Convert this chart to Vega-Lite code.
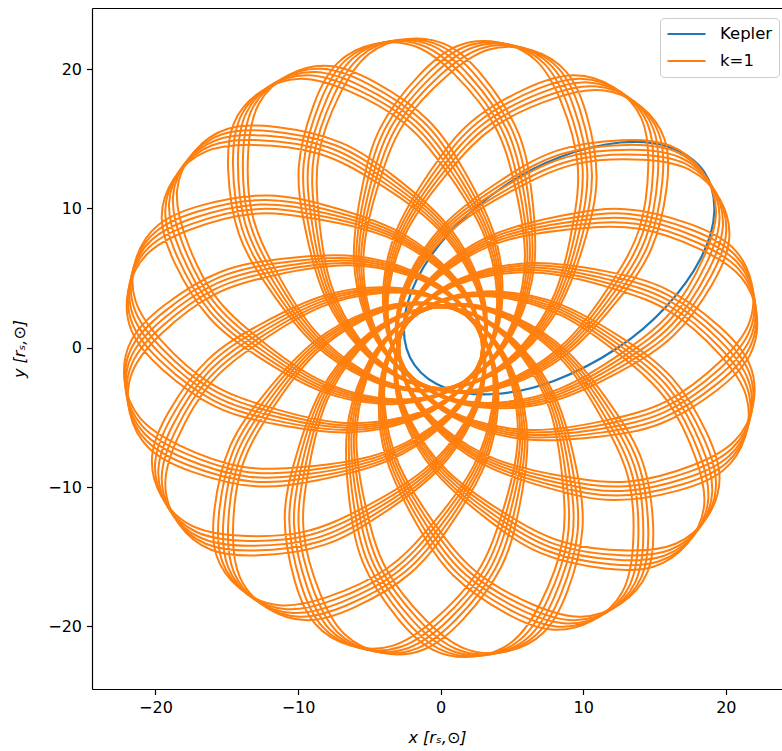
{
"$schema":"https://vega.github.io/schema/vega-lite/v6.json",
"width":690,"height":681,
"autosize":{"type":"none"},
"padding":{"left":92,"top":8,"right":0,"bottom":62},
"background":"white",
"config":{
 "view":{"stroke":null},
 "font":"DejaVu Sans",
 "axis":{"grid":false,"domainColor":"#000","domainWidth":1.2,"tickColor":"#000","tickWidth":1.2,"tickSize":5.5,"labelColor":"#000","labelFont":"DejaVu Sans","labelFontSize":16,"labelPadding":5,"titleColor":"#000","titleFont":"DejaVu Sans","titleFontSize":16,"titleFontWeight":"normal","titleFontStyle":"italic"},
 "legend":{"orient":"none","legendX":568,"legendY":10,"symbolType":"stroke","symbolSize":1444,"symbolStrokeWidth":2.2,"clipHeight":20,"labelFont":"DejaVu Sans","labelFontSize":16.5,"labelColor":"#000","labelOffset":13,"fillColor":"rgba(255,255,255,0.8)","strokeColor":"#cccccc","cornerRadius":4,"padding":6,"rowPadding":7}
},
"datasets":{
"kepler":[
{"x":-1.825,"y":-1.254},{"x":0.466,"y":-2.941},{"x":3.889,"y":-3.321},{"x":7.982,"y":-2.364},{"x":12.427,"y":0},{"x":15.79,"y":2.927},{"x":18.265,"y":6.468},{"x":19.195,"y":9.78},{"x":18.447,"y":12.678},{"x":16.009,"y":14.415},{"x":12.584,"y":14.734},{"x":8.391,"y":13.693},{"x":4.453,"y":11.602},{"x":0.653,"y":8.299},{"x":-1.707,"y":4.821},{"x":-2.579,"y":1.489}
],
"orbit":[
{"s":0,"x":0.566,"y":-3.571},{"s":0,"x":4.138,"y":-3.927},{"s":0,"x":8.33,"y":-2.95},{"s":0,"x":12.77,"y":-0.334},{"s":0,"x":16.138,"y":2.556},{"s":0,"x":18.471,"y":6.541},{"s":0,"x":19.311,"y":9.839},{"s":0,"x":18.373,"y":12.627},{"s":0,"x":16.106,"y":14.502},{"s":0,"x":12.726,"y":14.9},{"s":0,"x":8.17,"y":14.15},{"s":0,"x":4.264,"y":12.041},{"s":0,"x":0.231,"y":8.834},{"s":0,"x":-2.183,"y":5.271},{"s":0,"x":-3.132,"y":1.808},{"s":0,"x":-2.679,"y":-1.11},
{"s":0,"x":-0.844,"y":-3.516},{"s":0,"x":2.32,"y":-5.212},{"s":0,"x":6.567,"y":-5.913},{"s":0,"x":11.67,"y":-5.196},{"s":0,"x":15.887,"y":-3.814},{"s":0,"x":19.568,"y":-1.026},{"s":0,"x":21.606,"y":1.7},{"s":0,"x":21.807,"y":4.635},{"s":0,"x":20.43,"y":7.235},{"s":0,"x":17.459,"y":8.896},{"s":0,"x":12.962,"y":9.947},{"s":0,"x":8.547,"y":9.493},{"s":0,"x":3.594,"y":8.073},{"s":0,"x":0,"y":5.705},{"s":0,"x":-2.201,"y":2.869},{"s":0,"x":-2.9,"y":0},
{"s":0,"x":-2.125,"y":-2.925},{"s":0,"x":0.149,"y":-5.703},{"s":0,"x":3.804,"y":-7.976},{"s":0,"x":8.793,"y":-9.266},{"s":0,"x":13.219,"y":-9.604},{"s":0,"x":17.686,"y":-8.436},{"s":0,"x":20.612,"y":-6.697},{"s":0,"x":21.92,"y":-4.063},{"s":0,"x":21.643,"y":-1.134},{"s":0,"x":19.535,"y":1.537},{"s":0,"x":15.782,"y":4.229},{"s":0,"x":11.53,"y":5.499},{"s":0,"x":6.41,"y":6.083},{"s":0,"x":2.183,"y":5.271},{"s":0,"x":-0.936,"y":3.493},{"s":0,"x":-2.679,"y":1.11},
{"s":0,"x":-3.083,"y":-1.889},{"s":0,"x":-2.045,"y":-5.326},{"s":0,"x":0.463,"y":-8.825},{"s":0,"x":4.578,"y":-11.926},{"s":0,"x":8.537,"y":-13.931},{"s":0,"x":13.112,"y":-14.562},{"s":0,"x":16.48,"y":-14.075},{"s":0,"x":18.697,"y":-12.142},{"s":0,"x":19.562,"y":-9.33},{"s":0,"x":18.636,"y":-6.055},{"s":0,"x":16.199,"y":-2.133},{"s":0,"x":12.756,"y":0.669},{"s":0,"x":8.25,"y":3.167},{"s":0,"x":4.034,"y":4.034},{"s":0,"x":0.472,"y":3.585},{"s":0,"x":-2.051,"y":2.051},
{"s":0,"x":-3.571,"y":-0.566},{"s":0,"x":-3.927,"y":-4.138},{"s":0,"x":-2.95,"y":-8.33},{"s":0,"x":-0.334,"y":-12.77},{"s":0,"x":2.556,"y":-16.138},{"s":0,"x":6.541,"y":-18.471},{"s":0,"x":9.839,"y":-19.311},{"s":0,"x":12.627,"y":-18.373},{"s":0,"x":14.502,"y":-16.106},{"s":0,"x":14.9,"y":-12.726},{"s":0,"x":14.15,"y":-8.17},{"s":0,"x":12.041,"y":-4.264},{"s":0,"x":8.834,"y":-0.231},{"s":0,"x":5.271,"y":2.183},{"s":0,"x":1.808,"y":3.132},{"s":0,"x":-1.11,"y":2.679},
{"s":0,"x":-3.516,"y":0.844},{"s":0,"x":-5.212,"y":-2.32},{"s":0,"x":-5.913,"y":-6.567},{"s":0,"x":-5.196,"y":-11.67},{"s":0,"x":-3.814,"y":-15.887},{"s":0,"x":-1.026,"y":-19.568},{"s":0,"x":1.7,"y":-21.606},{"s":0,"x":4.635,"y":-21.807},{"s":0,"x":7.235,"y":-20.43},{"s":0,"x":8.896,"y":-17.459},{"s":0,"x":9.947,"y":-12.962},{"s":0,"x":9.493,"y":-8.547},{"s":0,"x":8.073,"y":-3.594},{"s":0,"x":5.705,"y":0},{"s":0,"x":2.869,"y":2.201},{"s":0,"x":0,"y":2.9},
{"s":0,"x":-2.925,"y":2.125},{"s":0,"x":-5.703,"y":-0.149},{"s":0,"x":-7.976,"y":-3.804},{"s":0,"x":-9.266,"y":-8.793},{"s":0,"x":-9.604,"y":-13.219},{"s":0,"x":-8.436,"y":-17.686},{"s":0,"x":-6.697,"y":-20.612},{"s":0,"x":-4.063,"y":-21.92},{"s":0,"x":-1.134,"y":-21.643},{"s":0,"x":1.537,"y":-19.535},{"s":0,"x":4.229,"y":-15.782},{"s":0,"x":5.499,"y":-11.53},{"s":0,"x":6.083,"y":-6.41},{"s":0,"x":5.271,"y":-2.183},{"s":0,"x":3.493,"y":0.936},{"s":0,"x":1.11,"y":2.679},
{"s":0,"x":-1.889,"y":3.083},{"s":0,"x":-5.326,"y":2.045},{"s":0,"x":-8.825,"y":-0.463},{"s":0,"x":-11.926,"y":-4.578},{"s":0,"x":-13.931,"y":-8.537},{"s":0,"x":-14.562,"y":-13.112},{"s":0,"x":-14.075,"y":-16.48},{"s":0,"x":-12.142,"y":-18.697},{"s":0,"x":-9.33,"y":-19.562},{"s":0,"x":-6.055,"y":-18.636},{"s":0,"x":-2.133,"y":-16.199},{"s":0,"x":0.669,"y":-12.756},{"s":0,"x":3.167,"y":-8.25},{"s":0,"x":4.034,"y":-4.034},{"s":0,"x":3.585,"y":-0.472},{"s":0,"x":2.051,"y":2.051},
{"s":0,"x":-0.566,"y":3.571},{"s":0,"x":-4.138,"y":3.927},{"s":0,"x":-8.33,"y":2.95},{"s":0,"x":-12.77,"y":0.334},{"s":0,"x":-16.138,"y":-2.556},{"s":0,"x":-18.471,"y":-6.541},{"s":0,"x":-19.311,"y":-9.839},{"s":0,"x":-18.373,"y":-12.627},{"s":0,"x":-16.106,"y":-14.502},{"s":0,"x":-12.726,"y":-14.9},{"s":0,"x":-8.17,"y":-14.15},{"s":0,"x":-4.264,"y":-12.041},{"s":0,"x":-0.231,"y":-8.834},{"s":0,"x":2.183,"y":-5.271},{"s":0,"x":3.132,"y":-1.808},{"s":0,"x":2.679,"y":1.11},
{"s":0,"x":0.844,"y":3.516},{"s":0,"x":-2.32,"y":5.212},{"s":0,"x":-6.567,"y":5.913},{"s":0,"x":-11.67,"y":5.196},{"s":0,"x":-15.887,"y":3.814},{"s":0,"x":-19.568,"y":1.026},{"s":0,"x":-21.606,"y":-1.7},{"s":0,"x":-21.807,"y":-4.635},{"s":0,"x":-20.43,"y":-7.235},{"s":0,"x":-17.459,"y":-8.896},{"s":0,"x":-12.962,"y":-9.947},{"s":0,"x":-8.547,"y":-9.493},{"s":0,"x":-3.594,"y":-8.073},{"s":0,"x":0,"y":-5.705},{"s":0,"x":2.201,"y":-2.869},{"s":0,"x":2.9,"y":0},
{"s":0,"x":2.125,"y":2.925},{"s":0,"x":-0.149,"y":5.703},{"s":0,"x":-3.804,"y":7.976},{"s":0,"x":-8.793,"y":9.266},{"s":0,"x":-13.219,"y":9.604},{"s":0,"x":-17.686,"y":8.436},{"s":0,"x":-20.612,"y":6.697},{"s":0,"x":-21.92,"y":4.063},{"s":0,"x":-21.643,"y":1.134},{"s":0,"x":-19.535,"y":-1.537},{"s":0,"x":-15.782,"y":-4.229},{"s":0,"x":-11.53,"y":-5.499},{"s":0,"x":-6.41,"y":-6.083},{"s":0,"x":-2.183,"y":-5.271},{"s":0,"x":0.936,"y":-3.493},{"s":0,"x":2.679,"y":-1.11},
{"s":0,"x":3.083,"y":1.889},{"s":0,"x":2.045,"y":5.326},{"s":0,"x":-0.463,"y":8.825},{"s":0,"x":-4.578,"y":11.926},{"s":0,"x":-8.537,"y":13.931},{"s":0,"x":-13.112,"y":14.562},{"s":0,"x":-16.48,"y":14.075},{"s":0,"x":-18.697,"y":12.142},{"s":0,"x":-19.562,"y":9.33},{"s":0,"x":-18.636,"y":6.055},{"s":0,"x":-16.199,"y":2.133},{"s":0,"x":-12.756,"y":-0.669},{"s":0,"x":-8.25,"y":-3.167},{"s":0,"x":-4.034,"y":-4.034},{"s":0,"x":-0.472,"y":-3.585},{"s":0,"x":2.051,"y":-2.051},
{"s":0,"x":3.571,"y":0.566},{"s":0,"x":3.927,"y":4.138},{"s":0,"x":2.95,"y":8.33},{"s":0,"x":0.334,"y":12.77},{"s":0,"x":-2.556,"y":16.138},{"s":0,"x":-6.541,"y":18.471},{"s":0,"x":-9.839,"y":19.311},{"s":0,"x":-12.627,"y":18.373},{"s":0,"x":-14.502,"y":16.106},{"s":0,"x":-14.9,"y":12.726},{"s":0,"x":-14.15,"y":8.17},{"s":0,"x":-12.041,"y":4.264},{"s":0,"x":-8.834,"y":0.231},{"s":0,"x":-5.271,"y":-2.183},{"s":0,"x":-1.808,"y":-3.132},{"s":0,"x":1.11,"y":-2.679},
{"s":0,"x":3.516,"y":-0.844},{"s":0,"x":5.212,"y":2.32},{"s":0,"x":5.913,"y":6.567},{"s":0,"x":5.196,"y":11.67},{"s":0,"x":3.814,"y":15.887},{"s":0,"x":1.026,"y":19.568},{"s":0,"x":-1.7,"y":21.606},{"s":0,"x":-4.635,"y":21.807},{"s":0,"x":-7.235,"y":20.43},{"s":0,"x":-8.896,"y":17.459},{"s":0,"x":-9.947,"y":12.962},{"s":0,"x":-9.493,"y":8.547},{"s":0,"x":-8.073,"y":3.594},{"s":0,"x":-5.705,"y":0},{"s":0,"x":-2.869,"y":-2.201},{"s":0,"x":0,"y":-2.9},
{"s":0,"x":2.925,"y":-2.125},{"s":0,"x":5.703,"y":0.149},{"s":0,"x":7.976,"y":3.804},{"s":0,"x":9.266,"y":8.793},{"s":0,"x":9.604,"y":13.219},{"s":0,"x":8.436,"y":17.686},{"s":0,"x":6.697,"y":20.612},{"s":0,"x":4.063,"y":21.92},{"s":0,"x":1.134,"y":21.643},{"s":0,"x":-1.537,"y":19.535},{"s":0,"x":-4.229,"y":15.782},{"s":0,"x":-5.499,"y":11.53},{"s":0,"x":-6.083,"y":6.41},{"s":0,"x":-5.271,"y":2.183},{"s":0,"x":-3.493,"y":-0.936},{"s":0,"x":-1.11,"y":-2.679},
{"s":0,"x":1.889,"y":-3.083},{"s":0,"x":5.326,"y":-2.045},{"s":0,"x":8.825,"y":0.463},{"s":0,"x":11.926,"y":4.578},{"s":0,"x":13.931,"y":8.537},{"s":0,"x":14.562,"y":13.112},{"s":0,"x":14.075,"y":16.48},{"s":0,"x":12.142,"y":18.697},{"s":0,"x":9.33,"y":19.562},{"s":0,"x":6.055,"y":18.636},{"s":0,"x":2.133,"y":16.199},{"s":0,"x":-0.669,"y":12.756},{"s":0,"x":-3.167,"y":8.25},{"s":0,"x":-4.034,"y":4.034},{"s":0,"x":-3.585,"y":0.472},{"s":0,"x":-2.051,"y":-2.051},
{"s":1,"x":0.472,"y":-3.585},{"s":1,"x":4.034,"y":-4.034},{"s":1,"x":8.25,"y":-3.167},{"s":1,"x":12.756,"y":-0.669},{"s":1,"x":16.199,"y":2.133},{"s":1,"x":18.636,"y":6.055},{"s":1,"x":19.562,"y":9.33},{"s":1,"x":18.697,"y":12.142},{"s":1,"x":16.48,"y":14.075},{"s":1,"x":13.112,"y":14.562},{"s":1,"x":8.537,"y":13.931},{"s":1,"x":4.578,"y":11.926},{"s":1,"x":0.463,"y":8.825},{"s":1,"x":-2.045,"y":5.326},{"s":1,"x":-3.083,"y":1.889},{"s":1,"x":-2.707,"y":-1.039},
{"s":1,"x":-0.936,"y":-3.493},{"s":1,"x":2.183,"y":-5.271},{"s":1,"x":6.41,"y":-6.083},{"s":1,"x":11.53,"y":-5.499},{"s":1,"x":15.782,"y":-4.229},{"s":1,"x":19.535,"y":-1.537},{"s":1,"x":21.643,"y":1.134},{"s":1,"x":21.92,"y":4.063},{"s":1,"x":20.612,"y":6.697},{"s":1,"x":17.686,"y":8.436},{"s":1,"x":13.219,"y":9.604},{"s":1,"x":8.793,"y":9.266},{"s":1,"x":3.804,"y":7.976},{"s":1,"x":0.149,"y":5.703},{"s":1,"x":-2.125,"y":2.925},{"s":1,"x":-2.899,"y":0.076},
{"s":1,"x":-2.201,"y":-2.869},{"s":1,"x":0,"y":-5.705},{"s":1,"x":3.594,"y":-8.073},{"s":1,"x":8.547,"y":-9.493},{"s":1,"x":12.962,"y":-9.947},{"s":1,"x":17.459,"y":-8.896},{"s":1,"x":20.43,"y":-7.235},{"s":1,"x":21.807,"y":-4.635},{"s":1,"x":21.606,"y":-1.7},{"s":1,"x":19.568,"y":1.026},{"s":1,"x":15.887,"y":3.814},{"s":1,"x":11.67,"y":5.196},{"s":1,"x":6.567,"y":5.913},{"s":1,"x":2.32,"y":5.212},{"s":1,"x":-0.844,"y":3.516},{"s":1,"x":-2.649,"y":1.18},
{"s":1,"x":-3.132,"y":-1.808},{"s":1,"x":-2.183,"y":-5.271},{"s":1,"x":0.231,"y":-8.834},{"s":1,"x":4.264,"y":-12.041},{"s":1,"x":8.17,"y":-14.15},{"s":1,"x":12.726,"y":-14.9},{"s":1,"x":16.106,"y":-14.502},{"s":1,"x":18.373,"y":-12.627},{"s":1,"x":19.311,"y":-9.839},{"s":1,"x":18.471,"y":-6.541},{"s":1,"x":16.138,"y":-2.556},{"s":1,"x":12.77,"y":0.334},{"s":1,"x":8.33,"y":2.95},{"s":1,"x":4.138,"y":3.927},{"s":1,"x":0.566,"y":3.571},{"s":1,"x":-1.996,"y":2.104},
{"s":1,"x":-3.585,"y":-0.472},{"s":1,"x":-4.034,"y":-4.034},{"s":1,"x":-3.167,"y":-8.25},{"s":1,"x":-0.669,"y":-12.756},{"s":1,"x":2.133,"y":-16.199},{"s":1,"x":6.055,"y":-18.636},{"s":1,"x":9.33,"y":-19.562},{"s":1,"x":12.142,"y":-18.697},{"s":1,"x":14.075,"y":-16.48},{"s":1,"x":14.562,"y":-13.112},{"s":1,"x":13.931,"y":-8.537},{"s":1,"x":11.926,"y":-4.578},{"s":1,"x":8.825,"y":-0.463},{"s":1,"x":5.326,"y":2.045},{"s":1,"x":1.889,"y":3.083},{"s":1,"x":-1.039,"y":2.707},
{"s":1,"x":-3.493,"y":0.936},{"s":1,"x":-5.271,"y":-2.183},{"s":1,"x":-6.083,"y":-6.41},{"s":1,"x":-5.499,"y":-11.53},{"s":1,"x":-4.229,"y":-15.782},{"s":1,"x":-1.537,"y":-19.535},{"s":1,"x":1.134,"y":-21.643},{"s":1,"x":4.063,"y":-21.92},{"s":1,"x":6.697,"y":-20.612},{"s":1,"x":8.436,"y":-17.686},{"s":1,"x":9.604,"y":-13.219},{"s":1,"x":9.266,"y":-8.793},{"s":1,"x":7.976,"y":-3.804},{"s":1,"x":5.703,"y":-0.149},{"s":1,"x":2.925,"y":2.125},{"s":1,"x":0.076,"y":2.899},
{"s":1,"x":-2.869,"y":2.201},{"s":1,"x":-5.705,"y":0},{"s":1,"x":-8.073,"y":-3.594},{"s":1,"x":-9.493,"y":-8.547},{"s":1,"x":-9.947,"y":-12.962},{"s":1,"x":-8.896,"y":-17.459},{"s":1,"x":-7.235,"y":-20.43},{"s":1,"x":-4.635,"y":-21.807},{"s":1,"x":-1.7,"y":-21.606},{"s":1,"x":1.026,"y":-19.568},{"s":1,"x":3.814,"y":-15.887},{"s":1,"x":5.196,"y":-11.67},{"s":1,"x":5.913,"y":-6.567},{"s":1,"x":5.212,"y":-2.32},{"s":1,"x":3.516,"y":0.844},{"s":1,"x":1.18,"y":2.649},
{"s":1,"x":-1.808,"y":3.132},{"s":1,"x":-5.271,"y":2.183},{"s":1,"x":-8.834,"y":-0.231},{"s":1,"x":-12.041,"y":-4.264},{"s":1,"x":-14.15,"y":-8.17},{"s":1,"x":-14.9,"y":-12.726},{"s":1,"x":-14.502,"y":-16.106},{"s":1,"x":-12.627,"y":-18.373},{"s":1,"x":-9.839,"y":-19.311},{"s":1,"x":-6.541,"y":-18.471},{"s":1,"x":-2.556,"y":-16.138},{"s":1,"x":0.334,"y":-12.77},{"s":1,"x":2.95,"y":-8.33},{"s":1,"x":3.927,"y":-4.138},{"s":1,"x":3.571,"y":-0.566},{"s":1,"x":2.104,"y":1.996},
{"s":1,"x":-0.472,"y":3.585},{"s":1,"x":-4.034,"y":4.034},{"s":1,"x":-8.25,"y":3.167},{"s":1,"x":-12.756,"y":0.669},{"s":1,"x":-16.199,"y":-2.133},{"s":1,"x":-18.636,"y":-6.055},{"s":1,"x":-19.562,"y":-9.33},{"s":1,"x":-18.697,"y":-12.142},{"s":1,"x":-16.48,"y":-14.075},{"s":1,"x":-13.112,"y":-14.562},{"s":1,"x":-8.537,"y":-13.931},{"s":1,"x":-4.578,"y":-11.926},{"s":1,"x":-0.463,"y":-8.825},{"s":1,"x":2.045,"y":-5.326},{"s":1,"x":3.083,"y":-1.889},{"s":1,"x":2.707,"y":1.039},
{"s":1,"x":0.936,"y":3.493},{"s":1,"x":-2.183,"y":5.271},{"s":1,"x":-6.41,"y":6.083},{"s":1,"x":-11.53,"y":5.499},{"s":1,"x":-15.782,"y":4.229},{"s":1,"x":-19.535,"y":1.537},{"s":1,"x":-21.643,"y":-1.134},{"s":1,"x":-21.92,"y":-4.063},{"s":1,"x":-20.612,"y":-6.697},{"s":1,"x":-17.686,"y":-8.436},{"s":1,"x":-13.219,"y":-9.604},{"s":1,"x":-8.793,"y":-9.266},{"s":1,"x":-3.804,"y":-7.976},{"s":1,"x":-0.149,"y":-5.703},{"s":1,"x":2.125,"y":-2.925},{"s":1,"x":2.899,"y":-0.076},
{"s":1,"x":2.201,"y":2.869},{"s":1,"x":0,"y":5.705},{"s":1,"x":-3.594,"y":8.073},{"s":1,"x":-8.547,"y":9.493},{"s":1,"x":-12.962,"y":9.947},{"s":1,"x":-17.459,"y":8.896},{"s":1,"x":-20.43,"y":7.235},{"s":1,"x":-21.807,"y":4.635},{"s":1,"x":-21.606,"y":1.7},{"s":1,"x":-19.568,"y":-1.026},{"s":1,"x":-15.887,"y":-3.814},{"s":1,"x":-11.67,"y":-5.196},{"s":1,"x":-6.567,"y":-5.913},{"s":1,"x":-2.32,"y":-5.212},{"s":1,"x":0.844,"y":-3.516},{"s":1,"x":2.649,"y":-1.18},
{"s":1,"x":3.132,"y":1.808},{"s":1,"x":2.183,"y":5.271},{"s":1,"x":-0.231,"y":8.834},{"s":1,"x":-4.264,"y":12.041},{"s":1,"x":-8.17,"y":14.15},{"s":1,"x":-12.726,"y":14.9},{"s":1,"x":-16.106,"y":14.502},{"s":1,"x":-18.373,"y":12.627},{"s":1,"x":-19.311,"y":9.839},{"s":1,"x":-18.471,"y":6.541},{"s":1,"x":-16.138,"y":2.556},{"s":1,"x":-12.77,"y":-0.334},{"s":1,"x":-8.33,"y":-2.95},{"s":1,"x":-4.138,"y":-3.927},{"s":1,"x":-0.566,"y":-3.571},{"s":1,"x":1.996,"y":-2.104},
{"s":1,"x":3.585,"y":0.472},{"s":1,"x":4.034,"y":4.034},{"s":1,"x":3.167,"y":8.25},{"s":1,"x":0.669,"y":12.756},{"s":1,"x":-2.133,"y":16.199},{"s":1,"x":-6.055,"y":18.636},{"s":1,"x":-9.33,"y":19.562},{"s":1,"x":-12.142,"y":18.697},{"s":1,"x":-14.075,"y":16.48},{"s":1,"x":-14.562,"y":13.112},{"s":1,"x":-13.931,"y":8.537},{"s":1,"x":-11.926,"y":4.578},{"s":1,"x":-8.825,"y":0.463},{"s":1,"x":-5.326,"y":-2.045},{"s":1,"x":-1.889,"y":-3.083},{"s":1,"x":1.039,"y":-2.707},
{"s":1,"x":3.493,"y":-0.936},{"s":1,"x":5.271,"y":2.183},{"s":1,"x":6.083,"y":6.41},{"s":1,"x":5.499,"y":11.53},{"s":1,"x":4.229,"y":15.782},{"s":1,"x":1.537,"y":19.535},{"s":1,"x":-1.134,"y":21.643},{"s":1,"x":-4.063,"y":21.92},{"s":1,"x":-6.697,"y":20.612},{"s":1,"x":-8.436,"y":17.686},{"s":1,"x":-9.604,"y":13.219},{"s":1,"x":-9.266,"y":8.793},{"s":1,"x":-7.976,"y":3.804},{"s":1,"x":-5.703,"y":0.149},{"s":1,"x":-2.925,"y":-2.125},{"s":1,"x":-0.076,"y":-2.899},
{"s":1,"x":2.869,"y":-2.201},{"s":1,"x":5.705,"y":0},{"s":1,"x":8.073,"y":3.594},{"s":1,"x":9.493,"y":8.547},{"s":1,"x":9.947,"y":12.962},{"s":1,"x":8.896,"y":17.459},{"s":1,"x":7.235,"y":20.43},{"s":1,"x":4.635,"y":21.807},{"s":1,"x":1.7,"y":21.606},{"s":1,"x":-1.026,"y":19.568},{"s":1,"x":-3.814,"y":15.887},{"s":1,"x":-5.196,"y":11.67},{"s":1,"x":-5.913,"y":6.567},{"s":1,"x":-5.212,"y":2.32},{"s":1,"x":-3.516,"y":-0.844},{"s":1,"x":-1.18,"y":-2.649},
{"s":1,"x":1.808,"y":-3.132},{"s":1,"x":5.271,"y":-2.183},{"s":1,"x":8.834,"y":0.231},{"s":1,"x":12.041,"y":4.264},{"s":1,"x":14.15,"y":8.17},{"s":1,"x":14.9,"y":12.726},{"s":1,"x":14.502,"y":16.106},{"s":1,"x":12.627,"y":18.373},{"s":1,"x":9.839,"y":19.311},{"s":1,"x":6.541,"y":18.471},{"s":1,"x":2.556,"y":16.138},{"s":1,"x":-0.334,"y":12.77},{"s":1,"x":-2.95,"y":8.33},{"s":1,"x":-3.927,"y":4.138},{"s":1,"x":-3.571,"y":0.566},{"s":1,"x":-2.104,"y":-1.996},
{"s":2,"x":0.378,"y":-3.596},{"s":2,"x":3.927,"y":-4.138},{"s":2,"x":8.164,"y":-3.382},{"s":2,"x":12.735,"y":-1.002},{"s":2,"x":16.249,"y":1.708},{"s":2,"x":18.788,"y":5.565},{"s":2,"x":19.799,"y":8.815},{"s":2,"x":19.009,"y":11.649},{"s":2,"x":16.843,"y":13.639},{"s":2,"x":13.488,"y":14.214},{"s":2,"x":8.899,"y":13.703},{"s":2,"x":4.888,"y":11.802},{"s":2,"x":0.693,"y":8.81},{"s":2,"x":-1.904,"y":5.378},{"s":2,"x":-3.033,"y":1.969},{"s":2,"x":-2.734,"y":-0.968},
{"s":2,"x":-1.027,"y":-3.467},{"s":2,"x":2.045,"y":-5.326},{"s":2,"x":6.249,"y":-6.249},{"s":2,"x":11.382,"y":-5.799},{"s":2,"x":15.666,"y":-4.641},{"s":2,"x":19.488,"y":-2.048},{"s":2,"x":21.666,"y":0.567},{"s":2,"x":22.019,"y":3.488},{"s":2,"x":20.78,"y":6.156},{"s":2,"x":17.901,"y":7.97},{"s":2,"x":13.465,"y":9.255},{"s":2,"x":9.033,"y":9.033},{"s":2,"x":4.012,"y":7.874},{"s":2,"x":0.299,"y":5.697},{"s":2,"x":-2.048,"y":2.98},{"s":2,"x":-2.896,"y":0.152},
{"s":2,"x":-2.276,"y":-2.81},{"s":2,"x":-0.149,"y":-5.703},{"s":2,"x":3.382,"y":-8.164},{"s":2,"x":8.296,"y":-9.713},{"s":2,"x":12.698,"y":-10.283},{"s":2,"x":17.221,"y":-9.35},{"s":2,"x":20.233,"y":-7.767},{"s":2,"x":21.678,"y":-5.205},{"s":2,"x":21.554,"y":-2.265},{"s":2,"x":19.588,"y":0.513},{"s":2,"x":15.982,"y":3.397},{"s":2,"x":11.802,"y":4.888},{"s":2,"x":6.72,"y":5.739},{"s":2,"x":2.456,"y":5.149},{"s":2,"x":-0.752,"y":3.537},{"s":2,"x":-2.618,"y":1.248},
{"s":2,"x":-3.178,"y":-1.725},{"s":2,"x":-2.32,"y":-5.212},{"s":2,"x":0,"y":-8.837},{"s":2,"x":3.947,"y":-12.149},{"s":2,"x":7.796,"y":-14.359},{"s":2,"x":12.332,"y":-15.228},{"s":2,"x":15.721,"y":-14.918},{"s":2,"x":18.036,"y":-13.104},{"s":2,"x":19.047,"y":-10.341},{"s":2,"x":18.294,"y":-7.022},{"s":2,"x":16.065,"y":-2.978},{"s":2,"x":12.774,"y":0},{"s":2,"x":8.405,"y":2.731},{"s":2,"x":4.24,"y":3.817},{"s":2,"x":0.659,"y":3.555},{"s":2,"x":-1.94,"y":2.155},
{"s":2,"x":-3.596,"y":-0.378},{"s":2,"x":-4.138,"y":-3.927},{"s":2,"x":-3.382,"y":-8.164},{"s":2,"x":-1.002,"y":-12.735},{"s":2,"x":1.708,"y":-16.249},{"s":2,"x":5.565,"y":-18.788},{"s":2,"x":8.815,"y":-19.799},{"s":2,"x":11.649,"y":-19.009},{"s":2,"x":13.639,"y":-16.843},{"s":2,"x":14.214,"y":-13.488},{"s":2,"x":13.703,"y":-8.899},{"s":2,"x":11.802,"y":-4.888},{"s":2,"x":8.81,"y":-0.693},{"s":2,"x":5.378,"y":1.904},{"s":2,"x":1.969,"y":3.033},{"s":2,"x":-0.968,"y":2.734},
{"s":2,"x":-3.467,"y":1.027},{"s":2,"x":-5.326,"y":-2.045},{"s":2,"x":-6.249,"y":-6.249},{"s":2,"x":-5.799,"y":-11.382},{"s":2,"x":-4.641,"y":-15.666},{"s":2,"x":-2.048,"y":-19.488},{"s":2,"x":0.567,"y":-21.666},{"s":2,"x":3.488,"y":-22.019},{"s":2,"x":6.156,"y":-20.78},{"s":2,"x":7.97,"y":-17.901},{"s":2,"x":9.255,"y":-13.465},{"s":2,"x":9.033,"y":-9.033},{"s":2,"x":7.874,"y":-4.012},{"s":2,"x":5.697,"y":-0.299},{"s":2,"x":2.98,"y":2.048},{"s":2,"x":0.152,"y":2.896},
{"s":2,"x":-2.81,"y":2.276},{"s":2,"x":-5.703,"y":0.149},{"s":2,"x":-8.164,"y":-3.382},{"s":2,"x":-9.713,"y":-8.296},{"s":2,"x":-10.283,"y":-12.698},{"s":2,"x":-9.35,"y":-17.221},{"s":2,"x":-7.767,"y":-20.233},{"s":2,"x":-5.205,"y":-21.678},{"s":2,"x":-2.265,"y":-21.554},{"s":2,"x":0.513,"y":-19.588},{"s":2,"x":3.397,"y":-15.982},{"s":2,"x":4.888,"y":-11.802},{"s":2,"x":5.739,"y":-6.72},{"s":2,"x":5.149,"y":-2.456},{"s":2,"x":3.537,"y":0.752},{"s":2,"x":1.248,"y":2.618},
{"s":2,"x":-1.725,"y":3.178},{"s":2,"x":-5.212,"y":2.32},{"s":2,"x":-8.837,"y":0},{"s":2,"x":-12.149,"y":-3.947},{"s":2,"x":-14.359,"y":-7.796},{"s":2,"x":-15.228,"y":-12.332},{"s":2,"x":-14.918,"y":-15.721},{"s":2,"x":-13.104,"y":-18.036},{"s":2,"x":-10.341,"y":-19.047},{"s":2,"x":-7.022,"y":-18.294},{"s":2,"x":-2.978,"y":-16.065},{"s":2,"x":0,"y":-12.774},{"s":2,"x":2.731,"y":-8.405},{"s":2,"x":3.817,"y":-4.24},{"s":2,"x":3.555,"y":-0.659},{"s":2,"x":2.155,"y":1.94},
{"s":2,"x":-0.378,"y":3.596},{"s":2,"x":-3.927,"y":4.138},{"s":2,"x":-8.164,"y":3.382},{"s":2,"x":-12.735,"y":1.002},{"s":2,"x":-16.249,"y":-1.708},{"s":2,"x":-18.788,"y":-5.565},{"s":2,"x":-19.799,"y":-8.815},{"s":2,"x":-19.009,"y":-11.649},{"s":2,"x":-16.843,"y":-13.639},{"s":2,"x":-13.488,"y":-14.214},{"s":2,"x":-8.899,"y":-13.703},{"s":2,"x":-4.888,"y":-11.802},{"s":2,"x":-0.693,"y":-8.81},{"s":2,"x":1.904,"y":-5.378},{"s":2,"x":3.033,"y":-1.969},{"s":2,"x":2.734,"y":0.968},
{"s":2,"x":1.027,"y":3.467},{"s":2,"x":-2.045,"y":5.326},{"s":2,"x":-6.249,"y":6.249},{"s":2,"x":-11.382,"y":5.799},{"s":2,"x":-15.666,"y":4.641},{"s":2,"x":-19.488,"y":2.048},{"s":2,"x":-21.666,"y":-0.567},{"s":2,"x":-22.019,"y":-3.488},{"s":2,"x":-20.78,"y":-6.156},{"s":2,"x":-17.901,"y":-7.97},{"s":2,"x":-13.465,"y":-9.255},{"s":2,"x":-9.033,"y":-9.033},{"s":2,"x":-4.012,"y":-7.874},{"s":2,"x":-0.299,"y":-5.697},{"s":2,"x":2.048,"y":-2.98},{"s":2,"x":2.896,"y":-0.152},
{"s":2,"x":2.276,"y":2.81},{"s":2,"x":0.149,"y":5.703},{"s":2,"x":-3.382,"y":8.164},{"s":2,"x":-8.296,"y":9.713},{"s":2,"x":-12.698,"y":10.283},{"s":2,"x":-17.221,"y":9.35},{"s":2,"x":-20.233,"y":7.767},{"s":2,"x":-21.678,"y":5.205},{"s":2,"x":-21.554,"y":2.265},{"s":2,"x":-19.588,"y":-0.513},{"s":2,"x":-15.982,"y":-3.397},{"s":2,"x":-11.802,"y":-4.888},{"s":2,"x":-6.72,"y":-5.739},{"s":2,"x":-2.456,"y":-5.149},{"s":2,"x":0.752,"y":-3.537},{"s":2,"x":2.618,"y":-1.248},
{"s":2,"x":3.178,"y":1.725},{"s":2,"x":2.32,"y":5.212},{"s":2,"x":0,"y":8.837},{"s":2,"x":-3.947,"y":12.149},{"s":2,"x":-7.796,"y":14.359},{"s":2,"x":-12.332,"y":15.228},{"s":2,"x":-15.721,"y":14.918},{"s":2,"x":-18.036,"y":13.104},{"s":2,"x":-19.047,"y":10.341},{"s":2,"x":-18.294,"y":7.022},{"s":2,"x":-16.065,"y":2.978},{"s":2,"x":-12.774,"y":0},{"s":2,"x":-8.405,"y":-2.731},{"s":2,"x":-4.24,"y":-3.817},{"s":2,"x":-0.659,"y":-3.555},{"s":2,"x":1.94,"y":-2.155},
{"s":2,"x":3.596,"y":0.378},{"s":2,"x":4.138,"y":3.927},{"s":2,"x":3.382,"y":8.164},{"s":2,"x":1.002,"y":12.735},{"s":2,"x":-1.708,"y":16.249},{"s":2,"x":-5.565,"y":18.788},{"s":2,"x":-8.815,"y":19.799},{"s":2,"x":-11.649,"y":19.009},{"s":2,"x":-13.639,"y":16.843},{"s":2,"x":-14.214,"y":13.488},{"s":2,"x":-13.703,"y":8.899},{"s":2,"x":-11.802,"y":4.888},{"s":2,"x":-8.81,"y":0.693},{"s":2,"x":-5.378,"y":-1.904},{"s":2,"x":-1.969,"y":-3.033},{"s":2,"x":0.968,"y":-2.734},
{"s":2,"x":3.467,"y":-1.027},{"s":2,"x":5.326,"y":2.045},{"s":2,"x":6.249,"y":6.249},{"s":2,"x":5.799,"y":11.382},{"s":2,"x":4.641,"y":15.666},{"s":2,"x":2.048,"y":19.488},{"s":2,"x":-0.567,"y":21.666},{"s":2,"x":-3.488,"y":22.019},{"s":2,"x":-6.156,"y":20.78},{"s":2,"x":-7.97,"y":17.901},{"s":2,"x":-9.255,"y":13.465},{"s":2,"x":-9.033,"y":9.033},{"s":2,"x":-7.874,"y":4.012},{"s":2,"x":-5.697,"y":0.299},{"s":2,"x":-2.98,"y":-2.048},{"s":2,"x":-0.152,"y":-2.896},
{"s":2,"x":2.81,"y":-2.276},{"s":2,"x":5.703,"y":-0.149},{"s":2,"x":8.164,"y":3.382},{"s":2,"x":9.713,"y":8.296},{"s":2,"x":10.283,"y":12.698},{"s":2,"x":9.35,"y":17.221},{"s":2,"x":7.767,"y":20.233},{"s":2,"x":5.205,"y":21.678},{"s":2,"x":2.265,"y":21.554},{"s":2,"x":-0.513,"y":19.588},{"s":2,"x":-3.397,"y":15.982},{"s":2,"x":-4.888,"y":11.802},{"s":2,"x":-5.739,"y":6.72},{"s":2,"x":-5.149,"y":2.456},{"s":2,"x":-3.537,"y":-0.752},{"s":2,"x":-1.248,"y":-2.618},
{"s":2,"x":1.725,"y":-3.178},{"s":2,"x":5.212,"y":-2.32},{"s":2,"x":8.837,"y":0},{"s":2,"x":12.149,"y":3.947},{"s":2,"x":14.359,"y":7.796},{"s":2,"x":15.228,"y":12.332},{"s":2,"x":14.918,"y":15.721},{"s":2,"x":13.104,"y":18.036},{"s":2,"x":10.341,"y":19.047},{"s":2,"x":7.022,"y":18.294},{"s":2,"x":2.978,"y":16.065},{"s":2,"x":0,"y":12.774},{"s":2,"x":-2.731,"y":8.405},{"s":2,"x":-3.817,"y":4.24},{"s":2,"x":-3.555,"y":0.659},{"s":2,"x":-2.155,"y":-1.94},
{"s":3,"x":0.284,"y":-3.605},{"s":3,"x":3.817,"y":-4.24},{"s":3,"x":8.073,"y":-3.594},{"s":3,"x":12.704,"y":-1.335},{"s":3,"x":16.289,"y":1.282},{"s":3,"x":18.927,"y":5.072},{"s":3,"x":20.023,"y":8.294},{"s":3,"x":19.307,"y":11.147},{"s":3,"x":17.194,"y":13.194},{"s":3,"x":13.856,"y":13.856},{"s":3,"x":9.255,"y":13.465},{"s":3,"x":5.196,"y":11.67},{"s":3,"x":0.924,"y":8.789},{"s":3,"x":-1.763,"y":5.426},{"s":3,"x":-2.98,"y":2.048},{"s":3,"x":-2.758,"y":-0.896},
{"s":3,"x":-1.117,"y":-3.439},{"s":3,"x":1.904,"y":-5.378},{"s":3,"x":6.083,"y":-6.41},{"s":3,"x":11.226,"y":-6.095},{"s":3,"x":15.539,"y":-5.049},{"s":3,"x":19.427,"y":-2.558},{"s":3,"x":21.673,"y":0},{"s":3,"x":22.103,"y":2.91},{"s":3,"x":20.934,"y":5.609},{"s":3,"x":18.104,"y":7.499},{"s":3,"x":13.703,"y":8.899},{"s":3,"x":9.266,"y":8.793},{"s":3,"x":4.217,"y":7.766},{"s":3,"x":0.448,"y":5.687},{"s":3,"x":-1.969,"y":3.033},{"s":3,"x":-2.891,"y":0.228},
{"s":3,"x":-2.348,"y":-2.75},{"s":3,"x":-0.299,"y":-5.697},{"s":3,"x":3.167,"y":-8.25},{"s":3,"x":8.039,"y":-9.927},{"s":3,"x":12.424,"y":-10.611},{"s":3,"x":16.97,"y":-9.798},{"s":3,"x":20.023,"y":-8.294},{"s":3,"x":21.534,"y":-5.77},{"s":3,"x":21.487,"y":-2.829},{"s":3,"x":19.595,"y":0},{"s":3,"x":16.065,"y":2.978},{"s":3,"x":11.926,"y":4.578},{"s":3,"x":6.868,"y":5.561},{"s":3,"x":2.59,"y":5.083},{"s":3,"x":-0.659,"y":3.555},{"s":3,"x":-2.584,"y":1.317},
{"s":3,"x":-3.222,"y":-1.642},{"s":3,"x":-2.456,"y":-5.149},{"s":3,"x":-0.231,"y":-8.834},{"s":3,"x":3.628,"y":-12.248},{"s":3,"x":7.418,"y":-14.558},{"s":3,"x":11.929,"y":-15.546},{"s":3,"x":15.325,"y":-15.325},{"s":3,"x":17.687,"y":-13.572},{"s":3,"x":18.77,"y":-10.837},{"s":3,"x":18.104,"y":-7.499},{"s":3,"x":15.982,"y":-3.397},{"s":3,"x":12.77,"y":-0.334},{"s":3,"x":8.473,"y":2.51},{"s":3,"x":4.338,"y":3.705},{"s":3,"x":0.752,"y":3.537},{"s":3,"x":-1.883,"y":2.205},
{"s":3,"x":-3.605,"y":-0.284},{"s":3,"x":-4.24,"y":-3.817},{"s":3,"x":-3.594,"y":-8.073},{"s":3,"x":-1.335,"y":-12.704},{"s":3,"x":1.282,"y":-16.289},{"s":3,"x":5.072,"y":-18.927},{"s":3,"x":8.294,"y":-20.023},{"s":3,"x":11.147,"y":-19.307},{"s":3,"x":13.194,"y":-17.194},{"s":3,"x":13.856,"y":-13.856},{"s":3,"x":13.465,"y":-9.255},{"s":3,"x":11.67,"y":-5.196},{"s":3,"x":8.789,"y":-0.924},{"s":3,"x":5.426,"y":1.763},{"s":3,"x":2.048,"y":2.98},{"s":3,"x":-0.896,"y":2.758},
{"s":3,"x":-3.439,"y":1.117},{"s":3,"x":-5.378,"y":-1.904},{"s":3,"x":-6.41,"y":-6.083},{"s":3,"x":-6.095,"y":-11.226},{"s":3,"x":-5.049,"y":-15.539},{"s":3,"x":-2.558,"y":-19.427},{"s":3,"x":0,"y":-21.673},{"s":3,"x":2.91,"y":-22.103},{"s":3,"x":5.609,"y":-20.934},{"s":3,"x":7.499,"y":-18.104},{"s":3,"x":8.899,"y":-13.703},{"s":3,"x":8.793,"y":-9.266},{"s":3,"x":7.766,"y":-4.217},{"s":3,"x":5.687,"y":-0.448},{"s":3,"x":3.033,"y":1.969},{"s":3,"x":0.228,"y":2.891},
{"s":3,"x":-2.75,"y":2.348},{"s":3,"x":-5.697,"y":0.299},{"s":3,"x":-8.25,"y":-3.167},{"s":3,"x":-9.927,"y":-8.039},{"s":3,"x":-10.611,"y":-12.424},{"s":3,"x":-9.798,"y":-16.97},{"s":3,"x":-8.294,"y":-20.023},{"s":3,"x":-5.77,"y":-21.534},{"s":3,"x":-2.829,"y":-21.487},{"s":3,"x":0,"y":-19.595},{"s":3,"x":2.978,"y":-16.065},{"s":3,"x":4.578,"y":-11.926},{"s":3,"x":5.561,"y":-6.868},{"s":3,"x":5.083,"y":-2.59},{"s":3,"x":3.555,"y":0.659},{"s":3,"x":1.317,"y":2.584},
{"s":3,"x":-1.642,"y":3.222},{"s":3,"x":-5.149,"y":2.456},{"s":3,"x":-8.834,"y":0.231},{"s":3,"x":-12.248,"y":-3.628},{"s":3,"x":-14.558,"y":-7.418},{"s":3,"x":-15.546,"y":-11.929},{"s":3,"x":-15.325,"y":-15.325},{"s":3,"x":-13.572,"y":-17.687},{"s":3,"x":-10.837,"y":-18.77},{"s":3,"x":-7.499,"y":-18.104},{"s":3,"x":-3.397,"y":-15.982},{"s":3,"x":-0.334,"y":-12.77},{"s":3,"x":2.51,"y":-8.473},{"s":3,"x":3.705,"y":-4.338},{"s":3,"x":3.537,"y":-0.752},{"s":3,"x":2.205,"y":1.883},
{"s":3,"x":-0.284,"y":3.605},{"s":3,"x":-3.817,"y":4.24},{"s":3,"x":-8.073,"y":3.594},{"s":3,"x":-12.704,"y":1.335},{"s":3,"x":-16.289,"y":-1.282},{"s":3,"x":-18.927,"y":-5.072},{"s":3,"x":-20.023,"y":-8.294},{"s":3,"x":-19.307,"y":-11.147},{"s":3,"x":-17.194,"y":-13.194},{"s":3,"x":-13.856,"y":-13.856},{"s":3,"x":-9.255,"y":-13.465},{"s":3,"x":-5.196,"y":-11.67},{"s":3,"x":-0.924,"y":-8.789},{"s":3,"x":1.763,"y":-5.426},{"s":3,"x":2.98,"y":-2.048},{"s":3,"x":2.758,"y":0.896},
{"s":3,"x":1.117,"y":3.439},{"s":3,"x":-1.904,"y":5.378},{"s":3,"x":-6.083,"y":6.41},{"s":3,"x":-11.226,"y":6.095},{"s":3,"x":-15.539,"y":5.049},{"s":3,"x":-19.427,"y":2.558},{"s":3,"x":-21.673,"y":0},{"s":3,"x":-22.103,"y":-2.91},{"s":3,"x":-20.934,"y":-5.609},{"s":3,"x":-18.104,"y":-7.499},{"s":3,"x":-13.703,"y":-8.899},{"s":3,"x":-9.266,"y":-8.793},{"s":3,"x":-4.217,"y":-7.766},{"s":3,"x":-0.448,"y":-5.687},{"s":3,"x":1.969,"y":-3.033},{"s":3,"x":2.891,"y":-0.228},
{"s":3,"x":2.348,"y":2.75},{"s":3,"x":0.299,"y":5.697},{"s":3,"x":-3.167,"y":8.25},{"s":3,"x":-8.039,"y":9.927},{"s":3,"x":-12.424,"y":10.611},{"s":3,"x":-16.97,"y":9.798},{"s":3,"x":-20.023,"y":8.294},{"s":3,"x":-21.534,"y":5.77},{"s":3,"x":-21.487,"y":2.829},{"s":3,"x":-19.595,"y":0},{"s":3,"x":-16.065,"y":-2.978},{"s":3,"x":-11.926,"y":-4.578},{"s":3,"x":-6.868,"y":-5.561},{"s":3,"x":-2.59,"y":-5.083},{"s":3,"x":0.659,"y":-3.555},{"s":3,"x":2.584,"y":-1.317},
{"s":3,"x":3.222,"y":1.642},{"s":3,"x":2.456,"y":5.149},{"s":3,"x":0.231,"y":8.834},{"s":3,"x":-3.628,"y":12.248},{"s":3,"x":-7.418,"y":14.558},{"s":3,"x":-11.929,"y":15.546},{"s":3,"x":-15.325,"y":15.325},{"s":3,"x":-17.687,"y":13.572},{"s":3,"x":-18.77,"y":10.837},{"s":3,"x":-18.104,"y":7.499},{"s":3,"x":-15.982,"y":3.397},{"s":3,"x":-12.77,"y":0.334},{"s":3,"x":-8.473,"y":-2.51},{"s":3,"x":-4.338,"y":-3.705},{"s":3,"x":-0.752,"y":-3.537},{"s":3,"x":1.883,"y":-2.205},
{"s":3,"x":3.605,"y":0.284},{"s":3,"x":4.24,"y":3.817},{"s":3,"x":3.594,"y":8.073},{"s":3,"x":1.335,"y":12.704},{"s":3,"x":-1.282,"y":16.289},{"s":3,"x":-5.072,"y":18.927},{"s":3,"x":-8.294,"y":20.023},{"s":3,"x":-11.147,"y":19.307},{"s":3,"x":-13.194,"y":17.194},{"s":3,"x":-13.856,"y":13.856},{"s":3,"x":-13.465,"y":9.255},{"s":3,"x":-11.67,"y":5.196},{"s":3,"x":-8.789,"y":0.924},{"s":3,"x":-5.426,"y":-1.763},{"s":3,"x":-2.048,"y":-2.98},{"s":3,"x":0.896,"y":-2.758},
{"s":3,"x":3.439,"y":-1.117},{"s":3,"x":5.378,"y":1.904},{"s":3,"x":6.41,"y":6.083},{"s":3,"x":6.095,"y":11.226},{"s":3,"x":5.049,"y":15.539},{"s":3,"x":2.558,"y":19.427},{"s":3,"x":0,"y":21.673},{"s":3,"x":-2.91,"y":22.103},{"s":3,"x":-5.609,"y":20.934},{"s":3,"x":-7.499,"y":18.104},{"s":3,"x":-8.899,"y":13.703},{"s":3,"x":-8.793,"y":9.266},{"s":3,"x":-7.766,"y":4.217},{"s":3,"x":-5.687,"y":0.448},{"s":3,"x":-3.033,"y":-1.969},{"s":3,"x":-0.228,"y":-2.891},
{"s":3,"x":2.75,"y":-2.348},{"s":3,"x":5.697,"y":-0.299},{"s":3,"x":8.25,"y":3.167},{"s":3,"x":9.927,"y":8.039},{"s":3,"x":10.611,"y":12.424},{"s":3,"x":9.798,"y":16.97},{"s":3,"x":8.294,"y":20.023},{"s":3,"x":5.77,"y":21.534},{"s":3,"x":2.829,"y":21.487},{"s":3,"x":0,"y":19.595},{"s":3,"x":-2.978,"y":16.065},{"s":3,"x":-4.578,"y":11.926},{"s":3,"x":-5.561,"y":6.868},{"s":3,"x":-5.083,"y":2.59},{"s":3,"x":-3.555,"y":-0.659},{"s":3,"x":-1.317,"y":-2.584},
{"s":3,"x":1.642,"y":-3.222},{"s":3,"x":5.149,"y":-2.456},{"s":3,"x":8.834,"y":-0.231},{"s":3,"x":12.248,"y":3.628},{"s":3,"x":14.558,"y":7.418},{"s":3,"x":15.546,"y":11.929},{"s":3,"x":15.325,"y":15.325},{"s":3,"x":13.572,"y":17.687},{"s":3,"x":10.837,"y":18.77},{"s":3,"x":7.499,"y":18.104},{"s":3,"x":3.397,"y":15.982},{"s":3,"x":0.334,"y":12.77},{"s":3,"x":-2.51,"y":8.473},{"s":3,"x":-3.705,"y":4.338},{"s":3,"x":-3.537,"y":0.752},{"s":3,"x":-2.205,"y":-1.883},
{"s":4,"x":0.189,"y":-3.611},{"s":4,"x":3.705,"y":-4.338},{"s":4,"x":7.976,"y":-3.804},{"s":4,"x":12.665,"y":-1.667},{"s":4,"x":16.317,"y":0.855},{"s":4,"x":19.054,"y":4.574},{"s":4,"x":20.233,"y":7.767},{"s":4,"x":19.592,"y":10.638},{"s":4,"x":17.534,"y":12.739},{"s":4,"x":14.214,"y":13.488},{"s":4,"x":9.604,"y":13.219},{"s":4,"x":5.499,"y":11.53},{"s":4,"x":1.153,"y":8.761},{"s":4,"x":-1.62,"y":5.47},{"s":4,"x":-2.925,"y":2.125},{"s":4,"x":-2.781,"y":-0.824},
{"s":4,"x":-1.207,"y":-3.409},{"s":4,"x":1.763,"y":-5.426},{"s":4,"x":5.913,"y":-6.567},{"s":4,"x":11.063,"y":-6.387},{"s":4,"x":15.402,"y":-5.454},{"s":4,"x":19.354,"y":-3.065},{"s":4,"x":21.666,"y":-0.567},{"s":4,"x":22.172,"y":2.33},{"s":4,"x":21.074,"y":5.06},{"s":4,"x":18.294,"y":7.022},{"s":4,"x":13.931,"y":8.537},{"s":4,"x":9.493,"y":8.547},{"s":4,"x":4.419,"y":7.653},{"s":4,"x":0.596,"y":5.674},{"s":4,"x":-1.889,"y":3.083},{"s":4,"x":-2.884,"y":0.303},
{"s":4,"x":-2.42,"y":-2.687},{"s":4,"x":-0.448,"y":-5.687},{"s":4,"x":2.95,"y":-8.33},{"s":4,"x":7.776,"y":-10.134},{"s":4,"x":12.142,"y":-10.933},{"s":4,"x":16.708,"y":-10.238},{"s":4,"x":19.799,"y":-8.815},{"s":4,"x":21.376,"y":-6.332},{"s":4,"x":21.406,"y":-3.39},{"s":4,"x":19.588,"y":-0.513},{"s":4,"x":16.138,"y":2.556},{"s":4,"x":12.041,"y":4.264},{"s":4,"x":7.011,"y":5.38},{"s":4,"x":2.722,"y":5.014},{"s":4,"x":-0.566,"y":3.571},{"s":4,"x":-2.549,"y":1.384},
{"s":4,"x":-3.264,"y":-1.557},{"s":4,"x":-2.59,"y":-5.083},{"s":4,"x":-0.463,"y":-8.825},{"s":4,"x":3.306,"y":-12.339},{"s":4,"x":7.034,"y":-14.747},{"s":4,"x":11.518,"y":-15.853},{"s":4,"x":14.918,"y":-15.721},{"s":4,"x":17.326,"y":-14.03},{"s":4,"x":18.479,"y":-11.324},{"s":4,"x":17.901,"y":-7.97},{"s":4,"x":15.887,"y":-3.814},{"s":4,"x":12.756,"y":-0.669},{"s":4,"x":8.536,"y":2.287},{"s":4,"x":4.434,"y":3.59},{"s":4,"x":0.844,"y":3.516},{"s":4,"x":-1.825,"y":2.254},
{"s":4,"x":-3.611,"y":-0.189},{"s":4,"x":-4.338,"y":-3.705},{"s":4,"x":-3.804,"y":-7.976},{"s":4,"x":-1.667,"y":-12.665},{"s":4,"x":0.855,"y":-16.317},{"s":4,"x":4.574,"y":-19.054},{"s":4,"x":7.767,"y":-20.233},{"s":4,"x":10.638,"y":-19.592},{"s":4,"x":12.739,"y":-17.534},{"s":4,"x":13.488,"y":-14.214},{"s":4,"x":13.219,"y":-9.604},{"s":4,"x":11.53,"y":-5.499},{"s":4,"x":8.761,"y":-1.153},{"s":4,"x":5.47,"y":1.62},{"s":4,"x":2.125,"y":2.925},{"s":4,"x":-0.824,"y":2.781},
{"s":4,"x":-3.409,"y":1.207},{"s":4,"x":-5.426,"y":-1.763},{"s":4,"x":-6.567,"y":-5.913},{"s":4,"x":-6.387,"y":-11.063},{"s":4,"x":-5.454,"y":-15.402},{"s":4,"x":-3.065,"y":-19.354},{"s":4,"x":-0.567,"y":-21.666},{"s":4,"x":2.33,"y":-22.172},{"s":4,"x":5.06,"y":-21.074},{"s":4,"x":7.022,"y":-18.294},{"s":4,"x":8.537,"y":-13.931},{"s":4,"x":8.547,"y":-9.493},{"s":4,"x":7.653,"y":-4.419},{"s":4,"x":5.674,"y":-0.596},{"s":4,"x":3.083,"y":1.889},{"s":4,"x":0.303,"y":2.884},
{"s":4,"x":-2.687,"y":2.42},{"s":4,"x":-5.687,"y":0.448},{"s":4,"x":-8.33,"y":-2.95},{"s":4,"x":-10.134,"y":-7.776},{"s":4,"x":-10.933,"y":-12.142},{"s":4,"x":-10.238,"y":-16.708},{"s":4,"x":-8.815,"y":-19.799},{"s":4,"x":-6.332,"y":-21.376},{"s":4,"x":-3.39,"y":-21.406},{"s":4,"x":-0.513,"y":-19.588},{"s":4,"x":2.556,"y":-16.138},{"s":4,"x":4.264,"y":-12.041},{"s":4,"x":5.38,"y":-7.011},{"s":4,"x":5.014,"y":-2.722},{"s":4,"x":3.571,"y":0.566},{"s":4,"x":1.384,"y":2.549},
{"s":4,"x":-1.557,"y":3.264},{"s":4,"x":-5.083,"y":2.59},{"s":4,"x":-8.825,"y":0.463},{"s":4,"x":-12.339,"y":-3.306},{"s":4,"x":-14.747,"y":-7.034},{"s":4,"x":-15.853,"y":-11.518},{"s":4,"x":-15.721,"y":-14.918},{"s":4,"x":-14.03,"y":-17.326},{"s":4,"x":-11.324,"y":-18.479},{"s":4,"x":-7.97,"y":-17.901},{"s":4,"x":-3.814,"y":-15.887},{"s":4,"x":-0.669,"y":-12.756},{"s":4,"x":2.287,"y":-8.536},{"s":4,"x":3.59,"y":-4.434},{"s":4,"x":3.516,"y":-0.844},{"s":4,"x":2.254,"y":1.825},
{"s":4,"x":-0.189,"y":3.611},{"s":4,"x":-3.705,"y":4.338},{"s":4,"x":-7.976,"y":3.804},{"s":4,"x":-12.665,"y":1.667},{"s":4,"x":-16.317,"y":-0.855},{"s":4,"x":-19.054,"y":-4.574},{"s":4,"x":-20.233,"y":-7.767},{"s":4,"x":-19.592,"y":-10.638},{"s":4,"x":-17.534,"y":-12.739},{"s":4,"x":-14.214,"y":-13.488},{"s":4,"x":-9.604,"y":-13.219},{"s":4,"x":-5.499,"y":-11.53},{"s":4,"x":-1.153,"y":-8.761},{"s":4,"x":1.62,"y":-5.47},{"s":4,"x":2.925,"y":-2.125},{"s":4,"x":2.781,"y":0.824},
{"s":4,"x":1.207,"y":3.409},{"s":4,"x":-1.763,"y":5.426},{"s":4,"x":-5.913,"y":6.567},{"s":4,"x":-11.063,"y":6.387},{"s":4,"x":-15.402,"y":5.454},{"s":4,"x":-19.354,"y":3.065},{"s":4,"x":-21.666,"y":0.567},{"s":4,"x":-22.172,"y":-2.33},{"s":4,"x":-21.074,"y":-5.06},{"s":4,"x":-18.294,"y":-7.022},{"s":4,"x":-13.931,"y":-8.537},{"s":4,"x":-9.493,"y":-8.547},{"s":4,"x":-4.419,"y":-7.653},{"s":4,"x":-0.596,"y":-5.674},{"s":4,"x":1.889,"y":-3.083},{"s":4,"x":2.884,"y":-0.303},
{"s":4,"x":2.42,"y":2.687},{"s":4,"x":0.448,"y":5.687},{"s":4,"x":-2.95,"y":8.33},{"s":4,"x":-7.776,"y":10.134},{"s":4,"x":-12.142,"y":10.933},{"s":4,"x":-16.708,"y":10.238},{"s":4,"x":-19.799,"y":8.815},{"s":4,"x":-21.376,"y":6.332},{"s":4,"x":-21.406,"y":3.39},{"s":4,"x":-19.588,"y":0.513},{"s":4,"x":-16.138,"y":-2.556},{"s":4,"x":-12.041,"y":-4.264},{"s":4,"x":-7.011,"y":-5.38},{"s":4,"x":-2.722,"y":-5.014},{"s":4,"x":0.566,"y":-3.571},{"s":4,"x":2.549,"y":-1.384},
{"s":4,"x":3.264,"y":1.557},{"s":4,"x":2.59,"y":5.083},{"s":4,"x":0.463,"y":8.825},{"s":4,"x":-3.306,"y":12.339},{"s":4,"x":-7.034,"y":14.747},{"s":4,"x":-11.518,"y":15.853},{"s":4,"x":-14.918,"y":15.721},{"s":4,"x":-17.326,"y":14.03},{"s":4,"x":-18.479,"y":11.324},{"s":4,"x":-17.901,"y":7.97},{"s":4,"x":-15.887,"y":3.814},{"s":4,"x":-12.756,"y":0.669},{"s":4,"x":-8.536,"y":-2.287},{"s":4,"x":-4.434,"y":-3.59},{"s":4,"x":-0.844,"y":-3.516},{"s":4,"x":1.825,"y":-2.254},
{"s":4,"x":3.611,"y":0.189},{"s":4,"x":4.338,"y":3.705},{"s":4,"x":3.804,"y":7.976},{"s":4,"x":1.667,"y":12.665},{"s":4,"x":-0.855,"y":16.317},{"s":4,"x":-4.574,"y":19.054},{"s":4,"x":-7.767,"y":20.233},{"s":4,"x":-10.638,"y":19.592},{"s":4,"x":-12.739,"y":17.534},{"s":4,"x":-13.488,"y":14.214},{"s":4,"x":-13.219,"y":9.604},{"s":4,"x":-11.53,"y":5.499},{"s":4,"x":-8.761,"y":1.153},{"s":4,"x":-5.47,"y":-1.62},{"s":4,"x":-2.125,"y":-2.925},{"s":4,"x":0.824,"y":-2.781},
{"s":4,"x":3.409,"y":-1.207},{"s":4,"x":5.426,"y":1.763},{"s":4,"x":6.567,"y":5.913},{"s":4,"x":6.387,"y":11.063},{"s":4,"x":5.454,"y":15.402},{"s":4,"x":3.065,"y":19.354},{"s":4,"x":0.567,"y":21.666},{"s":4,"x":-2.33,"y":22.172},{"s":4,"x":-5.06,"y":21.074},{"s":4,"x":-7.022,"y":18.294},{"s":4,"x":-8.537,"y":13.931},{"s":4,"x":-8.547,"y":9.493},{"s":4,"x":-7.653,"y":4.419},{"s":4,"x":-5.674,"y":0.596},{"s":4,"x":-3.083,"y":-1.889},{"s":4,"x":-0.303,"y":-2.884},
{"s":4,"x":2.687,"y":-2.42},{"s":4,"x":5.687,"y":-0.448},{"s":4,"x":8.33,"y":2.95},{"s":4,"x":10.134,"y":7.776},{"s":4,"x":10.933,"y":12.142},{"s":4,"x":10.238,"y":16.708},{"s":4,"x":8.815,"y":19.799},{"s":4,"x":6.332,"y":21.376},{"s":4,"x":3.39,"y":21.406},{"s":4,"x":0.513,"y":19.588},{"s":4,"x":-2.556,"y":16.138},{"s":4,"x":-4.264,"y":12.041},{"s":4,"x":-5.38,"y":7.011},{"s":4,"x":-5.014,"y":2.722},{"s":4,"x":-3.571,"y":-0.566},{"s":4,"x":-1.384,"y":-2.549},
{"s":4,"x":1.557,"y":-3.264},{"s":4,"x":5.083,"y":-2.59},{"s":4,"x":8.825,"y":-0.463},{"s":4,"x":12.339,"y":3.306},{"s":4,"x":14.747,"y":7.034},{"s":4,"x":15.853,"y":11.518},{"s":4,"x":15.721,"y":14.918},{"s":4,"x":14.03,"y":17.326},{"s":4,"x":11.324,"y":18.479},{"s":4,"x":7.97,"y":17.901},{"s":4,"x":3.814,"y":15.887},{"s":4,"x":0.669,"y":12.756},{"s":4,"x":-2.287,"y":8.536},{"s":4,"x":-3.59,"y":4.434},{"s":4,"x":-3.516,"y":0.844},{"s":4,"x":-2.254,"y":-1.825}
]
},
"resolve":{"axis":{"x":"independent"}},
"layer":[
 {"data":{"name":"kepler"},
  "mark":{"type":"line","interpolate":"cardinal-closed","strokeWidth":2.2},
  "encoding":{
   "x":{"field":"x","type":"quantitative","scale":{"domain":[-24.45,23.94],"nice":false,"zero":false},"axis":{"orient":"bottom","values":[-20,-10,0,10,20],"title":"x [rₛ,⊙]","titlePadding":14}},
   "y":{"field":"y","type":"quantitative","scale":{"domain":[-24.5,24.39],"nice":false,"zero":false},"axis":{"values":[-20,-10,0,10,20],"title":"y [rₛ,⊙]","titlePadding":20}},
   "order":{"value":null},
   "color":{"datum":"Kepler","type":"nominal","scale":{"domain":["Kepler","k=1"],"range":["#1f77b4","#ff7f0e"]},"legend":{"title":null}}
  }},
 {"data":{"name":"orbit"},
  "mark":{"type":"line","interpolate":"cardinal-closed","strokeWidth":2},
  "encoding":{
   "x":{"field":"x","type":"quantitative","scale":{"domain":[-24.45,23.94],"nice":false,"zero":false},"axis":{"orient":"top","labels":false,"ticks":false,"title":null,"domain":true}},
   "y":{"field":"y","type":"quantitative","scale":{"domain":[-24.5,24.39],"nice":false,"zero":false},"axis":{"values":[-20,-10,0,10,20],"title":"y [rₛ,⊙]","titlePadding":20}},
   "detail":{"field":"s","type":"nominal"},
   "order":{"value":null},
   "color":{"datum":"k=1","type":"nominal"}
  }}
]
}
